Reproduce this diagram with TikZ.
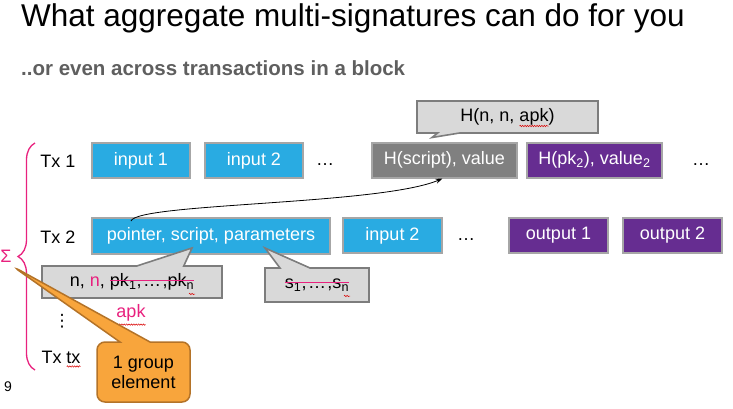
\documentclass[tikz,border=0pt]{standalone}
\usepackage{fontspec}
\setmainfont{Liberation Sans}
\newfontfamily\symfont{DejaVu Sans}
\usetikzlibrary{arrows.meta,shapes.callouts,decorations.pathreplacing,decorations.pathmorphing,calc}

\definecolor{txblue}{RGB}{41,171,226}
\definecolor{txpurple}{RGB}{102,45,145}
\definecolor{txgray}{RGB}{128,128,128}
\definecolor{boxedge}{RGB}{166,166,166}
\definecolor{notefill}{RGB}{217,217,217}
\definecolor{noteedge}{RGB}{125,125,125}
\definecolor{sigpink}{RGB}{232,33,126}
\definecolor{grpfill}{RGB}{248,165,60}
\definecolor{grpedge}{RGB}{180,115,40}
\definecolor{subgray}{RGB}{95,95,95}

\newcommand{\strk}[1]{\setbox2\hbox{#1}\rlap{\copy2}\textcolor{sigpink}{\rule[0.3em]{\wd2}{1.2pt}}}
\newcommand{\dts}{\kern1.5pt…\kern1.5pt}

\begin{document}
\begin{tikzpicture}[x=1pt,y=-1pt,
  txt/.style={inner sep=0pt,font=\fontsize{18}{21}\selectfont},
  txbox/.style={txt,draw=boxedge,line width=2pt,minimum height=35pt,text=white},
  note/.style={txt,rectangle callout,fill=notefill,draw=noteedge,line width=1.6pt,minimum height=32pt},
  squiggle/.style={red!85!black,line width=0.5pt,decorate,decoration={snake,amplitude=0.7pt,segment length=2.4pt}}]
\useasboundingbox (0,0) rectangle (733,408);
% title
\node[inner sep=0pt,anchor=base west,font=\fontsize{31.5}{36}\selectfont] (title) at (21,26) {What aggregate multi-signatures can do for you};
\node[inner sep=0pt,anchor=base west,font=\bfseries\fontsize{20.5}{24}\selectfont,text=subgray] (subtitle) at (21,75) {..or even across transactions in a block};
% row labels
\node[txt] (tx1) at (58,161) {Tx 1};
\node[txt] (tx2) at (58,237) {Tx 2};
\node[txt,font=\symfont\fontsize{17}{20}\selectfont] (vdots) at (62,321) {⋮};
\node[txt] (txn) at (61,357) {Tx tx};
% Tx 1
\node[txbox,fill=txblue,minimum width=98pt] (in1) at (141,160.5) {input 1};
\node[txbox,fill=txblue,minimum width=98pt] (in2) at (254,160.5) {input 2};
\node[txt] (dotsa) at (325,165) {…};
\node[txbox,fill=txgray,minimum width=145pt] (hs) at (444.5,160) {H(script), value};
\node[txbox,fill=txpurple,minimum width=135pt] (hpk) at (594.5,160) {H(pk\textsubscript{2}), value\textsubscript{2}};
\node[txt] (dotsb) at (701,165) {…};
% Tx 2
\node[txbox,fill=txblue,minimum width=238pt,minimum height=36pt] (ptr) at (211,236) {pointer, script, parameters};
\node[txbox,fill=txblue,minimum width=99pt] (in2b) at (392.5,235.5) {input 2};
\node[txt] (dotsc) at (466,240) {…};
\node[txbox,fill=txpurple,minimum width=99pt] (out1) at (558.5,235.5) {output 1};
\node[txbox,fill=txpurple,minimum width=99pt] (out2) at (672.5,235.5) {output 2};
% pointer to the previous output
\coordinate (ptrstart) at ($(ptr.north west)+(40,4)$);
\draw[-{Stealth[length=7pt,width=5pt]},line width=0.8pt] (ptrstart) .. controls (137,203) and (380,205) .. ($(hs.south)+(-2,0)$);
% callouts
\node[note,minimum width=180pt,callout pointer width=47pt,
  callout absolute pointer={($(ptr.south west)+(101,-7)$)}] (keys) at (132,282)
  {n, \textcolor{sigpink}{n}, \strk{pk\textsubscript{1},\dts,pk\textsubscript{n}}};
\node[note,minimum width=104pt,minimum height=34pt,callout pointer width=30pt,
  callout absolute pointer={($(ptr.south west)+(174,-7)$)}] (sigs) at (317,285)
  {\strk{s\textsubscript{1},\dts,s\textsubscript{n}}};
\node[note,minimum width=181pt,callout pointer width=22pt,
  callout absolute pointer={($(hs.north west)+(61,-4)$)}] (hnote) at (507.5,117)
  {H(n, n, apk)};
\node[txt,text=sigpink] (apk) at (131,313) {apk};
% spelling marks
\draw[squiggle] ($(txn.south east)+(-14,3)$) -- ($(txn.south east)+(0,3)$);
\draw[squiggle] ($(apk.south west)+(0,3)$) -- ($(apk.south east)+(0,3)$);
\draw[squiggle] ($(hnote.center)+(12,9)$) -- ($(hnote.center)+(41,9)$);
\draw[squiggle] ($(keys.center)+(57,12)$) -- ($(keys.center)+(63,12)$);
\draw[squiggle] ($(sigs.center)+(27,11)$) -- ($(sigs.center)+(33,11)$);
% aggregate over the block
\draw[sigpink,line width=1.3pt,decorate,decoration={brace,amplitude=17pt}] (35,370) -- (35,143);
\node[txt,text=sigpink] (sigma) at (6,256) {Σ};
\node[inner sep=0pt,font=\fontsize{14}{16}\selectfont] (page) at (8,387) {9};
\node[txt,rectangle callout,align=center,fill=grpfill,draw=grpedge,line width=1.5pt,
  rounded corners=8pt,minimum width=93pt,minimum height=60pt,callout pointer width=30pt,
  callout absolute pointer={($(sigma.south east)+(1,4)$)}] (grp) at (143.5,372)
  {1 group\\[-1pt]element};
\end{tikzpicture}
\end{document}
